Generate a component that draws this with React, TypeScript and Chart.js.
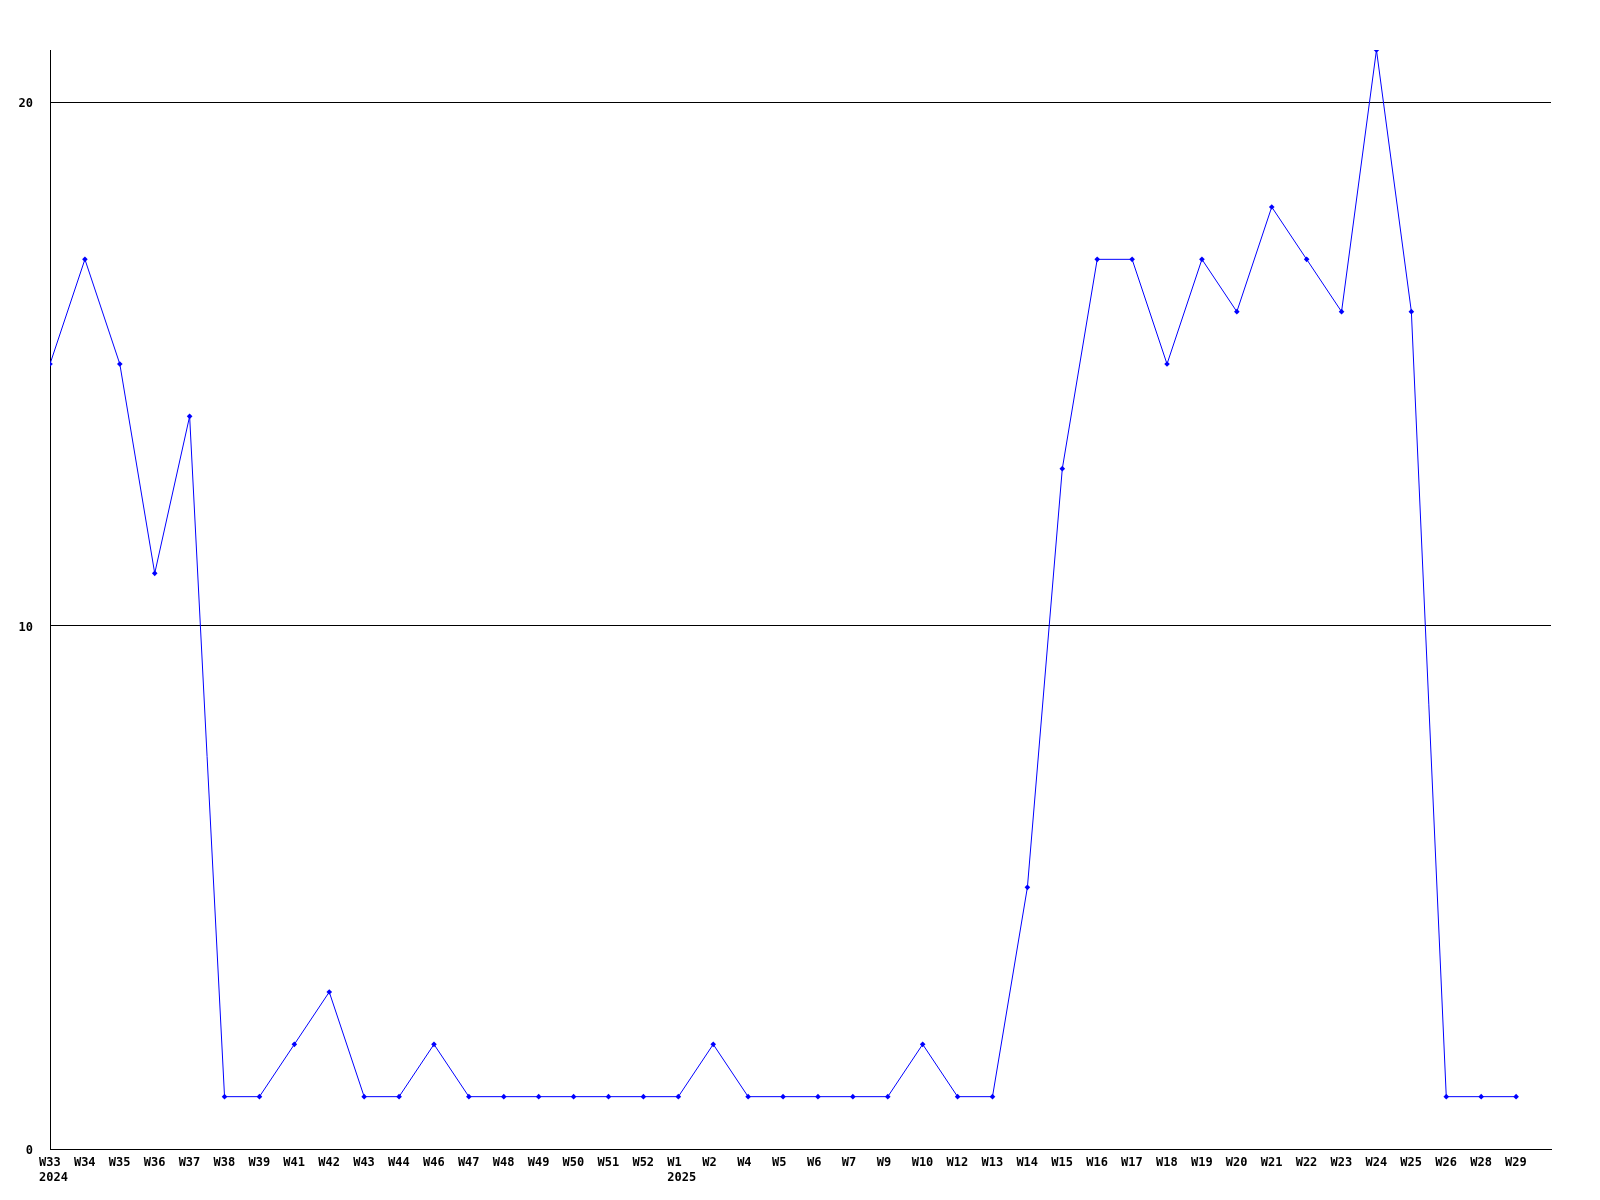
import React, { useEffect, useRef } from "react";
import { Chart, registerables } from "chart.js";

Chart.register(...registerables);

const weeks: string[] = [
  "W33", "W34", "W35", "W36", "W37", "W38", "W39", "W41", "W42", "W43", "W44",
  "W46", "W47", "W48", "W49", "W50", "W51", "W52",
  "W1", "W2", "W4", "W5", "W6", "W7", "W9", "W10", "W12", "W13",
  "W14", "W15", "W16", "W17", "W18", "W19", "W20", "W21", "W22", "W23", "W24", "W25", "W26",
  "W28", "W29",
];

const counts: number[] = [
  15, 17, 15, 11, 14, 1, 1, 2, 3, 1, 1,
  2, 1, 1, 1, 1, 1, 1,
  1, 2, 1, 1, 1, 1, 1, 2, 1, 1,
  5, 13, 17, 17, 15, 17, 16, 18, 17, 16, 21, 16, 1,
  1, 1,
];

const yearMarks: { week: string; year: string }[] = [
  { week: "W33", year: "2024" },
  { week: "W1", year: "2025" },
];

const yTicks: number[] = [0, 10, 20];
const yMax = 21;

const FONT = "bold 12px 'DejaVu Sans Mono'";
const LABEL_SHIFT = -11;

const yearPlugin = {
  id: "yearLabels",
  afterDraw(chart: any) {
    const ctx = chart.ctx;
    const xs = chart.scales.x;
    ctx.save();
    ctx.font = FONT;
    ctx.fillStyle = "#000";
    ctx.textBaseline = "middle";
    ctx.textAlign = "left";
    yearMarks.forEach((m) => {
      const i = weeks.indexOf(m.week);
      const px = xs.getPixelForValue(i);
      ctx.fillText(m.year, px + LABEL_SHIFT, xs.top + 28.5);
    });
    ctx.restore();
  },
};

export default function App() {
  const ref = useRef<HTMLCanvasElement>(null);
  useEffect(() => {
    if (!ref.current) return;
    const chart = new Chart(ref.current, {
      type: "line",
      data: {
        datasets: [
          {
            data: counts.map((v, i) => ({ x: i, y: v })),
            borderColor: "#0000ff",
            backgroundColor: "#0000ff",
            borderWidth: 1,
            pointStyle: "rectRot",
            pointRadius: 2.8,
            pointBorderWidth: 0,
            tension: 0,
            fill: false,
          },
        ],
      },
      options: {
        animation: false,
        responsive: false,
        devicePixelRatio: 1,
        layout: { padding: { left: 0, top: 50, right: 49, bottom: 0 } },
        plugins: {
          legend: { display: false },
          tooltip: { enabled: false },
        },
        scales: {
          x: {
            type: "linear",
            min: 0,
            max: weeks.length,
            grid: { display: false, drawTicks: false },
            border: { display: true, color: "#000", width: 1 },
            afterBuildTicks: (scale: any) => {
              scale.ticks = weeks.map((_, i) => ({ value: i }));
            },
            afterFit: (scale: any) => {
              scale.height = 51;
            },
            ticks: {
              autoSkip: false,
              maxRotation: 0,
              minRotation: 0,
              padding: 7,
              align: "start",
              labelOffset: LABEL_SHIFT,
              color: "#000",
              font: { family: "'DejaVu Sans Mono'", size: 12, weight: "bold" },
              callback: (v: any) => weeks[v] ?? "",
            },
          },
          y: {
            type: "linear",
            min: 0,
            max: yMax,
            grid: { display: true, color: "#000", lineWidth: 1, drawTicks: false },
            border: { display: true, color: "#000", width: 1 },
            afterBuildTicks: (scale: any) => {
              scale.ticks = yTicks.map((v) => ({ value: v }));
            },
            afterFit: (scale: any) => {
              scale.width = 50;
            },
            ticks: {
              padding: 17,
              labelOffset: 2,
              color: "#000",
              font: { family: "'DejaVu Sans Mono'", size: 12, weight: "bold" },
              callback: (v: any) => String(v),
            },
          },
        },
      },
      plugins: [yearPlugin],
    });
    return () => chart.destroy();
  }, []);
  return (
    <div style={{ position: "absolute", left: 0, top: 0, width: 1600, height: 1200, background: "#fff" }}>
      <canvas ref={ref} width={1600} height={1200} />
    </div>
  );
}
